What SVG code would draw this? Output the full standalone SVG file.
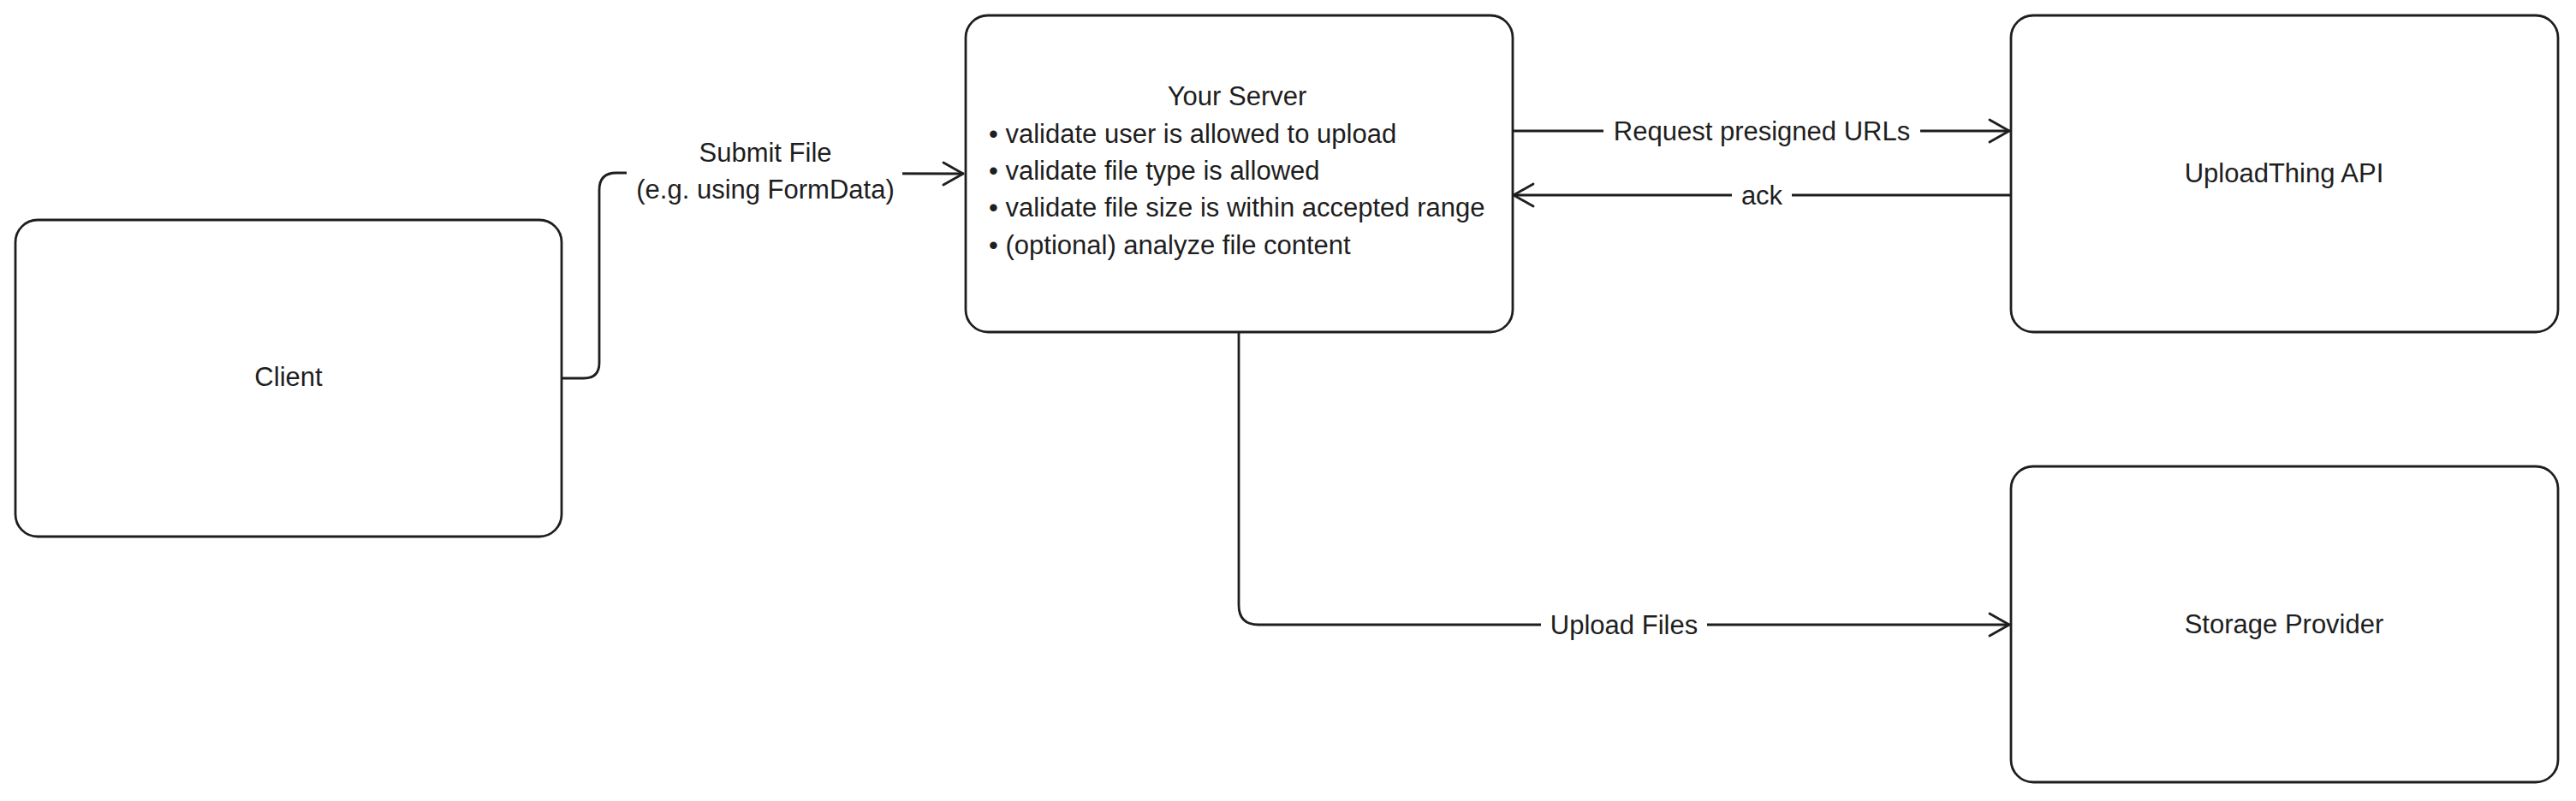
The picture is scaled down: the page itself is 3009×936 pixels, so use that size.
<svg xmlns="http://www.w3.org/2000/svg" width="3009" height="936" viewBox="0 0 3009 936">
  <defs>
    <style>
      .box { fill: #ffffff; stroke: #1e1e1e; stroke-width: 2.8; }
      .edge { fill: none; stroke: #1e1e1e; stroke-width: 2.8; stroke-linecap: round; stroke-linejoin: round; }
      .lbl { font-family: "Liberation Sans", Arial, Helvetica, sans-serif; font-size: 31px; fill: #1e1e1e; }
      .mid { text-anchor: middle; }
      .bg { fill: #ffffff; stroke: none; }
    </style>
    <marker id="arrow" markerUnits="userSpaceOnUse" markerWidth="40" markerHeight="40" viewBox="-30 -20 40 40" refX="0" refY="0" orient="auto">
      <path d="M -23 -13 L 0 0 L -23 13" fill="none" stroke="#1e1e1e" stroke-width="2.8" stroke-linecap="round" stroke-linejoin="round"/>
    </marker>
  </defs>
  <rect width="3009" height="936" fill="#ffffff"/>

  <g id="connectors">
    <g id="edge-submit">
      <path class="edge" d="M 657 442 L 682 442 Q 700 442 700 424 L 700 222 Q 700 202 720 202 L 1125 203" marker-end="url(#arrow)"/>
      <rect class="bg" x="732" y="158" width="322" height="86"/>
      <text class="lbl mid" x="894" y="189">Submit File</text>
      <text class="lbl mid" x="894" y="232">(e.g. using FormData)</text>
    </g>
    <g id="edge-request">
      <path class="edge" d="M 1768 153 L 2347 153" marker-end="url(#arrow)"/>
      <rect class="bg" x="1873" y="132" width="370" height="42"/>
      <text class="lbl mid" x="2058" y="164">Request presigned URLs</text>
    </g>
    <g id="edge-ack">
      <path class="edge" d="M 2349 228 L 1768 228" marker-end="url(#arrow)"/>
      <rect class="bg" x="2023" y="207" width="70" height="42"/>
      <text class="lbl mid" x="2058" y="239">ack</text>
    </g>
    <g id="edge-upload">
      <path class="edge" d="M 1447 389 L 1447 707 Q 1447 730 1470 730 L 2347 730" marker-end="url(#arrow)"/>
      <rect class="bg" x="1800" y="709" width="194" height="42"/>
      <text class="lbl mid" x="1897" y="741">Upload Files</text>
    </g>
  </g>

  <g id="node-client">
    <rect class="box" x="18" y="257" width="638" height="370" rx="26" ry="26"/>
    <text class="lbl mid" x="337" y="451">Client</text>
  </g>

  <g id="node-server">
    <rect class="box" x="1128" y="18" width="639" height="370" rx="26" ry="26"/>
    <text class="lbl mid" x="1445" y="123">Your Server</text>
    <text class="lbl" x="1155" y="167">• validate user is allowed to upload</text>
    <text class="lbl" x="1155" y="210">• validate file type is allowed</text>
    <text class="lbl" x="1155" y="253">• validate file size is within accepted range</text>
    <text class="lbl" x="1155" y="297">• (optional) analyze file content</text>
  </g>

  <g id="node-uploadthing">
    <rect class="box" x="2349" y="18" width="639" height="370" rx="26" ry="26"/>
    <text class="lbl mid" x="2668" y="213">UploadThing API</text>
  </g>

  <g id="node-storage">
    <rect class="box" x="2349" y="545" width="639" height="369" rx="26" ry="26"/>
    <text class="lbl mid" x="2668" y="740">Storage Provider</text>
  </g>
</svg>
